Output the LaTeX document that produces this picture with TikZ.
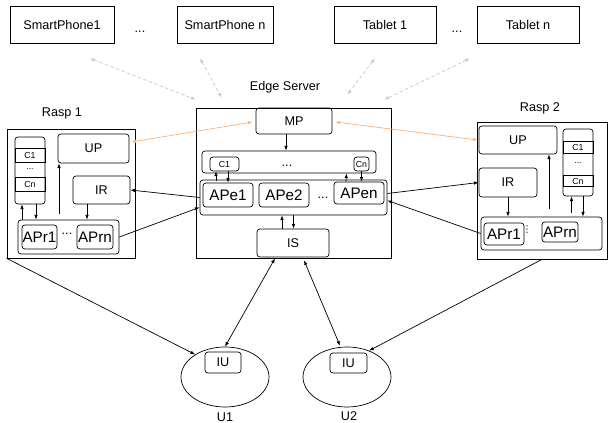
\documentclass[tikz,border=0pt]{standalone}
\usepackage{fontspec}
\setmainfont{Liberation Sans}
\newfontfamily\symbfont{DejaVu Sans}
\usetikzlibrary{arrows.meta,calc,shapes.geometric}

\definecolor{linkorange}{RGB}{250,178,115}
\definecolor{linkgray}{RGB}{200,200,200}

\begin{document}
\begin{tikzpicture}[x=0.3mm, y=-0.3mm, line width=0.6pt,
  box/.style 2 args={draw, rectangle, inner sep=0pt, minimum width=#1*0.3mm, minimum height=#2*0.3mm},
  rbox/.style 2 args={box={#1}{#2}, rounded corners=2.5pt},
  lblfont/.style={font=\fontsize{10.8}{12}\selectfont},
  apfont/.style={font=\fontsize{13}{15}\selectfont},
  cfont/.style={font=\fontsize{7.5}{8}\selectfont},
  arr/.style={-{Latex[length=4pt,width=3pt]}},
  darr/.style={{Latex[length=4pt,width=3pt]}-{Latex[length=4pt,width=3pt]}},
  glink/.style={darr, linkgray, dash pattern=on 3pt off 2pt},
  olink/.style={darr, linkorange}]

\tikzstyle{every node} = [lblfont, inner sep=0pt]

\useasboundingbox (0,0) rectangle (608,423);

% devices
\node[box={104}{37}] (sp1) at (62,24.5) {SmartPhone1};
\node (spdots) at (140,32) {...};
\node[box={96}{37}] (spn) at (225,24.5) {SmartPhone n};
\node[box={102}{37}] (tab1) at (385,24.5) {Tablet 1};
\node (tabdots) at (457,32) {...};
\node[box={102}{37}] (tabn) at (528,24.5) {Tablet n};

% edge server
\node (eslbl) at (285,87) {Edge Server};
\node[box={195}{150}] (es) at (293.5,183) {};
\node[rbox={76}{26}] (mp) at (294,121) {MP};
\node[rbox={174}{22}] (ce) at (289,162) {};
\node[rbox={29}{14}, cfont] (c1e) at (224.5,164) {C1};
\node (cedots) at (287,166) {...};
\node[rbox={15}{14}, cfont] (cne) at (361.5,164) {Cn};
\node[rbox={187}{35}] (ape) at (293.5,197.5) {};
\node[rbox={50}{24}, apfont] (ape1) at (228,195) {APe1};
\node[rbox={50}{24}, apfont] (ape2) at (284,195) {APe2};
\node (apedots) at (323,198) {...};
\node[rbox={50}{22}, apfont] (apen) at (359,193) {APen};
\node[rbox={72}{28}] (is) at (293,243) {IS};

% rasp 1
\node (r1lbl) at (62,113) {Rasp 1};
\node[box={128}{129}] (r1) at (71,193.5) {};
\node[rbox={30}{67}] (cache1) at (30,170.5) {};
\node[box={30}{14}, cfont] (c1r1) at (30,155) {C1};
\node[cfont] (cdots1) at (30,169) {...};
\node[box={30}{14}, cfont] (cnr1) at (30,184) {Cn};
\node[rbox={71}{29}] (up1) at (93.5,148.5) {UP};
\node[rbox={57}{28}] (ir1) at (101.5,190) {IR};
\node[rbox={101}{34}] (apr1) at (68.5,237) {};
\node[rbox={35}{24}, apfont] (apr11) at (39.5,237) {APr1};
\node (aprdots1) at (67,234) {...};
\node[rbox={36}{24}, apfont] (apr1n) at (95,237) {APrn};

% rasp 2
\node (r2lbl) at (540,108) {Rasp 2};
\node[box={130}{137}] (r2) at (542,190.5) {};
\node[rbox={78}{28}] (up2) at (518,140) {UP};
\node[rbox={30}{67}] (cache2) at (578,162.5) {};
\node[box={30}{11.7}, cfont] (c1r2) at (578,147.5) {C1};
\node[cfont] (cdots2) at (578,163.5) {...};
\node[box={30}{11.7}, cfont] (cnr2) at (578,181) {Cn};
\node[rbox={58}{29}] (ir2) at (508,182.5) {IR};
\node[rbox={121}{33}] (apr2) at (541.5,233.5) {};
\node[rbox={40}{22}, apfont] (apr21) at (504,234) {APr1};
\node[font=\symbfont\fontsize{8}{9}\selectfont] (aprdots2) at (527,230) {⋮};
\node[rbox={36}{20}, apfont] (apr2n) at (560,232) {APrn};

% users
\node[draw, ellipse, minimum width=88*0.3mm, minimum height=60*0.3mm] (u1) at (225,377) {};
\node[rbox={36}{21}] (iu1) at (223,362.5) {IU};
\node (u1lbl) at (225,417) {U1};
\node[draw, ellipse, minimum width=88*0.3mm, minimum height=60*0.3mm] (u2) at (347,377) {};
\node[rbox={37}{20}] (iu2) at (348.5,363) {IU};
\node (u2lbl) at (349,416) {U2};

% devices to edge server
\draw[glink] ($(sp1.south)+(28,15)$) -- ($(es.north west)+(0,-8)$);
\draw[glink] ($(spn.south)+(-25,15)$) -- ($(es.north west)+(26,-10)$);
\draw[glink] ($(tab1.south)+(-10,15)$) -- ($(es.north east)+(-44,-13)$);
\draw[glink] ($(tabn.south)+(-58,15)$) -- ($(es.north east)+(-7,-8)$);

% inside edge server
\draw[arr] ($(mp.south)+(-8,0)$) -- ($(ce.north)+(-3,0)$);
\draw[arr] ($(ape1.north)+(-12,-2)$) -- ($(c1e.south)+(-8.5,0)$);
\draw[arr] ($(c1e.south)+(3.5,0)$) -- (ape1.north);
\draw[arr] ($(apen.north)+(-13,0)$) -- ($(ce.south)+(57.5,0)$);
\draw[arr] (cne.south) -- ($(apen.north)+(2.5,0)$);
\draw[arr] ($(is.north)+(-11,0)$) -- ($(ape.south)+(-11.5,0)$);
\draw[arr] (ape.south) -- (ape.south |- is.north);

% inside rasp 1
\draw[arr] ($(apr1.north)+(-46.5,0)$) -- ($(cache1.south)+(-8,0)$);
\draw[arr] ($(cache1.south)+(6,0)$) -- ($(apr1.north)+(-32.5,0)$);
\draw[arr] ($(apr1.north)+(-9.5,-6)$) -- ($(up1.south)+(-34.5,0)$);
\draw[arr] ($(ir1.south)+(-14.5,0)$) -- ($(apr1.north)+(18.5,0)$);

% inside rasp 2
\draw[arr] (ir2.south) -- (ir2.south |- apr2.north);
\draw[arr] ($(apr2.north)+(7.5,-8)$) -- ($(up2.south)+(31,0)$);
\draw[arr] ($(apr2.north)+(30,-4)$) -- ($(cache2.south)+(-6.5,0)$);
\draw[arr] ($(cache2.south)+(5,0)$) -- ($(apr2.north)+(41.5,0)$);

% edge server to rasps
\draw[olink] ($(up1.east)+(2,-6.5)$) -- ($(mp.west)+(-3,1)$);
\draw[olink] ($(mp.east)+(3,1)$) -- ($(up2.west)+(-1,0)$);
\draw[arr] (ape.west) -- (ir1.east);
\draw[arr] (apr1.east) -- ($(ape.south west)+(0,-8)$);
\draw[arr] ($(ape.east)+(0,-4)$) -- (ir2.west);
\draw[arr] (apr2.west) -- ($(ape.east)+(0,3)$);

% to users
\draw[arr] (r1.south west) -- (u1.143);
\draw[arr] (r2.south) -- (u2.50);
\draw[darr] ($(is.south)+(-18,1)$) -- (u1.north);
\draw[darr] ($(is.south)+(11,3)$) -- ($(u2.north)+(-7,-1)$);
\end{tikzpicture}
\end{document}
